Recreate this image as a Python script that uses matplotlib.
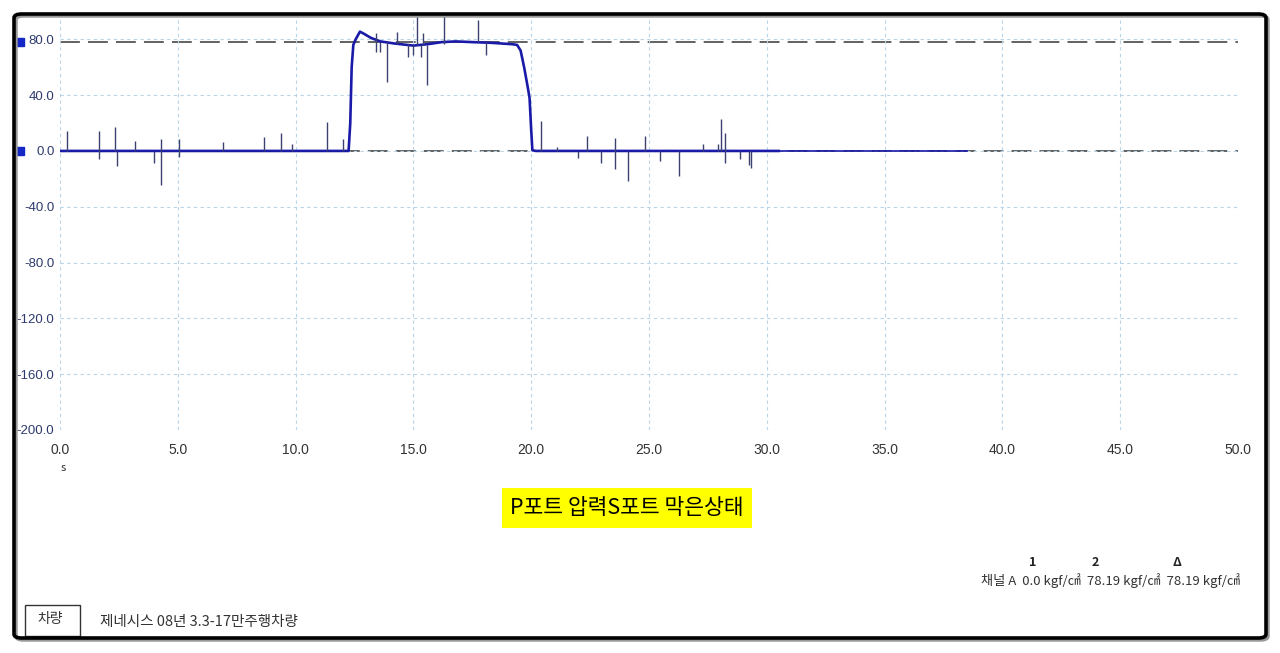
import matplotlib.pyplot as plt
from matplotlib.patches import FancyBboxPatch, Rectangle
import matplotlib.transforms as mtransforms

plt.rcParams['font.family'] = ['Noto Sans CJK KR', 'DejaVu Sans']

# main pressure trace (s, kgf/cm2)
trace_t = [0, 12.25, 12.32, 12.38, 12.45, 12.55, 12.73, 12.9, 13.2, 13.6, 14.2, 15.0,
           15.6, 16.2, 16.8, 17.5, 18.3, 19.2, 19.4, 19.55, 19.7, 19.85, 19.93, 20.0,
           20.05, 20.2, 30.5]
trace_v = [0, 0, 20, 60, 76, 80, 85.5, 84, 81, 78.5, 77, 75.5,
           76.5, 78, 78.5, 78, 77.5, 76.5, 76, 72, 60, 46, 38, 15,
           0.5, 0, 0]

# quiet tail after the noise stops
tail_t = [30.5, 38.5]
tail_v = [0, 0]

# short spikes: time, low end, high end
spike_t = [0.28, 1.65, 2.32, 2.44, 3.2, 3.97, 4.28, 5.06, 6.9, 8.64, 9.39, 9.86, 11.33, 12.02,
           13.41, 13.57, 13.9, 14.32, 14.77, 15.0, 15.15, 15.31, 15.39, 15.58, 16.3, 17.73, 18.07,
           20.4, 21.1, 22.0, 22.37, 22.96, 23.56, 24.1, 24.83, 25.47, 26.27, 27.31, 27.91,
           28.04, 28.22, 28.85, 29.23, 29.33]
spike_lo = [0, -6, 0, -10.5, 0, -8.4, -24.4, -4, 0, 0, 0, 0, 0, 0,
            71, 71, 49.7, 77, 67.6, 69, 76, 67.6, 76, 47.3, 77, 78, 69,
            0, 0, -5.3, 0, -8.4, -13.2, -21.5, 0, -7.2, -17.9, 0, 0,
            0, -8.4, -6, -10, -12.4]
spike_hi = [14, 14, 17, 0, 7.4, 0, 8.6, 8.8, 6.5, 10.3, 12.7, 5, 20.5, 8.4,
            84.6, 78, 78, 85.5, 77, 76, 100, 76, 84.3, 76, 100, 94, 78,
            21.5, 3, 0, 10.7, 0, 9.5, 0, 10.7, 0, 0, 4.8, 5,
            22.7, 12.6, 0, 0, 0]

cursor_vals = [78.19, 0.0]
yticks = [80, 40, 0, -40, -80, -120, -160, -200]
xticks = [0, 5, 10, 15, 20, 25, 30, 35, 40, 45, 50]

fig = plt.figure(figsize=(12.8, 6.53), dpi=100)
ax = fig.add_axes([60 / 1280, 1 - 430 / 653, 1178 / 1280, 413 / 653])

ax.set_xlim(0, 50)
ax.set_ylim(-200, 96)
ax.set_xticks(xticks)
ax.set_xticklabels(['%.1f' % x for x in xticks], color='#333333', fontsize=10,
                   family=['Liberation Sans'])
ax.set_yticks(yticks)
ax.set_yticklabels(['%.1f' % y for y in yticks], color='#2e3a6e', fontsize=9.5,
                   family=['Liberation Sans'])
ax.tick_params(length=0, pad=4)
ax.tick_params(axis='x', pad=9)
for s in ax.spines.values():
    s.set_visible(False)
ax.grid(True, color='#b8d4e6', linestyle=(0, (3, 3)), linewidth=0.8)

# cursor lines
for c in cursor_vals:
    ax.axhline(c, color='#555555', linestyle=(0, (11, 4.5)), linewidth=1.3, zorder=1)

ax.plot(trace_t, trace_v, color='#1a1aa8', linewidth=1.9, zorder=2)
ax.plot(tail_t, tail_v, color='#1a1aa8', linewidth=1.2, zorder=2)
ax.vlines(spike_t, spike_lo, spike_hi, color='#3c4270', linewidth=1.0, zorder=3)

# cursor markers to the left of the labels
trans = mtransforms.blended_transform_factory(ax.transAxes, ax.transData)
ax.plot([-0.034] * len(cursor_vals), cursor_vals, 's', color='#1428c8', markersize=6,
        transform=trans, clip_on=False)

fig.text(63 / 1280, 1 - 468 / 653, 's', fontsize=8, color='#333333', ha='center', va='center')

# yellow note
fig.text(627 / 1280, 1 - 508 / 653, 'P포트 압력S포트 막은상태', fontsize=15.5, ha='center',
         va='center', color='black', fontweight='medium',
         bbox=dict(boxstyle='square,pad=0.4', facecolor='#ffff00', edgecolor='none'))

# cursor readout
for x, lab in [(1033, '1'), (1095, '2'), (1177, 'Δ')]:
    fig.text(x / 1280, 1 - 563 / 653, lab, fontsize=9, fontweight='bold', ha='center',
             va='center', color='#222222')
fig.text(1240 / 1280, 1 - 581 / 653, '채널 A  0.0 kgf/㎠  78.19 kgf/㎠  78.19 kgf/㎠',
         fontsize=9.5, ha='right', va='center', color='#333333')

# vehicle info
fig.patches.append(Rectangle((25 / 1280, 1 - 636 / 653), 55 / 1280, 31 / 653,
                             transform=fig.transFigure, fill=False, edgecolor='#333333',
                             linewidth=1))
fig.text(50 / 1280, 1 - 619 / 653, '차량', fontsize=10, ha='center', va='center', color='#333333')
fig.text(100 / 1280, 1 - 622 / 653, '제네시스 08년 3.3-17만주행차량', fontsize=10.5, ha='left',
         va='center', color='#333333')

# outer frame
fig.patches.append(FancyBboxPatch((16 / 1280, 1 - 640 / 653), 1252 / 1280, 624 / 653,
                                  boxstyle='round,pad=0,rounding_size=0.006',
                                  transform=fig.transFigure, fill=False,
                                  edgecolor='#999999', linewidth=2.5, zorder=9))
fig.patches.append(FancyBboxPatch((14 / 1280, 1 - 638 / 653), 1252 / 1280, 624 / 653,
                                  boxstyle='round,pad=0,rounding_size=0.006',
                                  transform=fig.transFigure, fill=False,
                                  edgecolor='black', linewidth=2.6, zorder=10))

fig.savefig('out.png', dpi=100)
